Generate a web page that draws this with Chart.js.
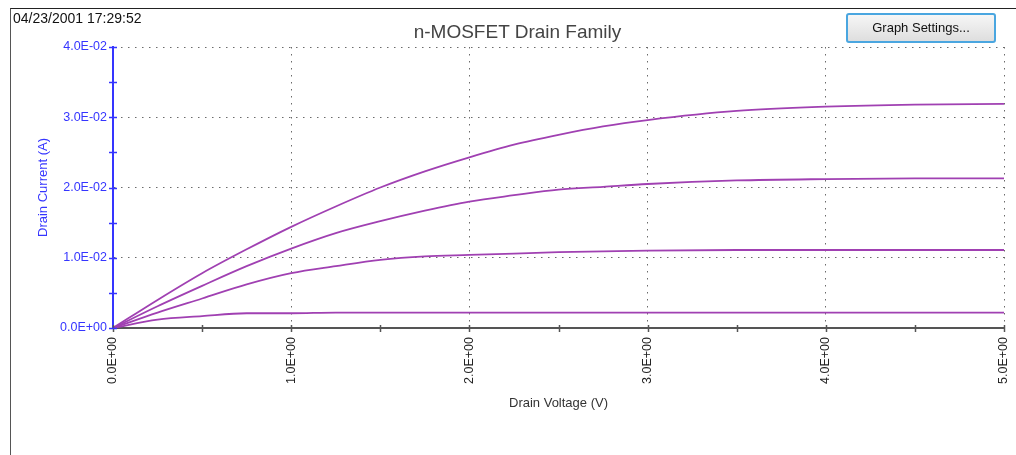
<!DOCTYPE html>
<html>
<head>
<meta charset="utf-8">
<script src="https://cdn.jsdelivr.net/npm/chart.js@4/dist/chart.umd.min.js"></script>
<style>
  html, body { margin: 0; padding: 0; background: #fff; }
  #wrap { position: relative; width: 1016px; height: 455px; overflow: hidden; background: #fff; font-family: "Liberation Sans", Arial, sans-serif; }
  #frame { position: absolute; left: 10px; top: 8px; width: 1010px; height: 460px; border-left: 1px solid #555; border-top: 1px solid #222; pointer-events: none; }
  #stamp { position: absolute; left: 13px; top: 10px; font-size: 14px; color: #111; line-height: 16px; }
  #title { position: absolute; left: 0; width: 1035px; top: 21px; text-align: center; font-size: 19px; color: #444; line-height: 22px; }
  #btn { position: absolute; left: 846px; top: 13px; width: 146px; height: 26px; border: 2px solid #4aa6e0; border-radius: 3px;
         background: linear-gradient(#f6f6f6, #dedede); font-size: 13px; color: #111; text-align: center; line-height: 26px; }
  canvas { position: absolute; left: 0; top: 0; }
</style>
</head>
<body>
<div id="wrap">
  <canvas id="c" width="1016" height="455"></canvas>
  <div id="frame"></div>
  <div id="stamp">04/23/2001 17:29:52</div>
  <div id="title">n-MOSFET Drain Family</div>
  <div id="btn">Graph Settings...</div>
</div>
<script>
// Drain voltage sample points (V)
const voltages = [0, 0.25, 0.5, 0.75, 1, 1.25, 1.5, 1.75, 2, 2.25, 2.5, 2.75, 3, 3.5, 4, 4.5, 5];
// Drain current (A) for each gate-voltage curve
const curve1 = [0, 0.0012, 0.0017, 0.0021, 0.0021, 0.0022, 0.0022, 0.0022, 0.0022, 0.0022, 0.0022, 0.0022, 0.0022, 0.0022, 0.0022, 0.0022, 0.0022];
const curve2 = [0, 0.0022, 0.0042, 0.0062, 0.0078, 0.0088, 0.0097, 0.0102, 0.0104, 0.0106, 0.0108, 0.0109, 0.0110, 0.0111, 0.0111, 0.0111, 0.0111];
const curve3 = [0, 0.0031, 0.0060, 0.0088, 0.0113, 0.0135, 0.0152, 0.0167, 0.0180, 0.0189, 0.0197, 0.0201, 0.0205, 0.0210, 0.0212, 0.0213, 0.0213];
const curve4 = [0, 0.0040, 0.0078, 0.0112, 0.0144, 0.0173, 0.0200, 0.0223, 0.0243, 0.0261, 0.0275, 0.0287, 0.0296, 0.0309, 0.0315, 0.0318, 0.0319];
// Axis tick labels
const xTickLabels = ["0.0E+00", "1.0E+00", "2.0E+00", "3.0E+00", "4.0E+00", "5.0E+00"];
const yTickLabels = ["0.0E+00", "1.0E-02", "2.0E-02", "3.0E-02", "4.0E-02"];

const LINE = '#a040b2';
const BLUE = '#3535ff';
const XAX = '#555555';
const GRID = '#6a6a6a';

function toPts(ys) { return voltages.map((v, i) => ({ x: v, y: ys[i] })); }
const series = [curve1, curve2, curve3, curve4];

function isMajor(v, step) { const r = v / step; return Math.abs(r - Math.round(r)) < 1e-6; }

const crossTicks = {
  id: 'crossTicks',
  afterDraw(chart) {
    const ctx = chart.ctx;
    const xs = chart.scales.x, ys = chart.scales.y;
    ctx.save();
    ctx.lineWidth = 1.5;
    ctx.strokeStyle = XAX;
    const yb = ys.getPixelForValue(0);
    xs.ticks.forEach(t => {
      const px = Math.round(xs.getPixelForValue(t.value)) + 0.5;
      ctx.beginPath(); ctx.moveTo(px, yb - 3); ctx.lineTo(px, yb + 4); ctx.stroke();
    });
    ctx.strokeStyle = BLUE;
    const xl = xs.getPixelForValue(0);
    ys.ticks.forEach(t => {
      const py = Math.round(ys.getPixelForValue(t.value)) + 0.5;
      ctx.beginPath(); ctx.moveTo(xl - 4, py); ctx.lineTo(xl + 4, py); ctx.stroke();
    });
    ctx.restore();
  }
};

new Chart(document.getElementById('c'), {
  type: 'line',
  data: {
    datasets: series.map((s, i) => ({
      label: 'Curve ' + (i + 1),
      data: toPts(s),
      borderColor: LINE,
      borderWidth: 1.8,
      pointRadius: 0,
      fill: false,
      cubicInterpolationMode: 'monotone'
    }))
  },
  options: {
    responsive: false,
    animation: false,
    events: [],
    layout: { padding: { left: 36, top: 47, right: 0, bottom: 44 } },
    plugins: { legend: { display: false }, tooltip: { enabled: false }, title: { display: false } },
    scales: {
      x: {
        type: 'linear', min: 0, max: 5,
        afterFit(s) { s.height = 83; s.paddingRight = 12; s.paddingLeft = 0; },
        ticks: {
          stepSize: 0.5, autoSkip: false, minRotation: 90, maxRotation: 90, padding: 9,
          color: '#222', font: { size: 12.5 },
          callback: (v) => isMajor(v, 1) ? xTickLabels[Math.round(v)] : ''
        },
        grid: {
          drawTicks: false,
          color: (c) => (c.tick && isMajor(c.tick.value, 1) && c.tick.value > 0) ? GRID : 'rgba(0,0,0,0)',
          lineWidth: 1
        },
        border: { display: true, color: XAX, width: 2, dash: [1.5, 5.5] },
        title: { display: true, text: 'Drain Voltage (V)', color: '#333', font: { size: 13 }, padding: { top: 0, bottom: 0 } }
      },
      y: {
        type: 'linear', min: 0, max: 0.04,
        afterFit(s) { s.width = 77; },
        ticks: {
          stepSize: 0.005, autoSkip: false, padding: 6,
          color: BLUE, font: { size: 12.5 },
          callback: (v) => isMajor(v, 0.01) ? yTickLabels[Math.round(v / 0.01)] : ''
        },
        grid: {
          drawTicks: false,
          color: (c) => (c.tick && isMajor(c.tick.value, 0.01) && c.tick.value > 0) ? GRID : 'rgba(0,0,0,0)',
          lineWidth: 1
        },
        border: { display: true, color: BLUE, width: 2, dash: [1.5, 5.5] },
        title: { display: true, text: 'Drain Current (A)', color: BLUE, font: { size: 13 }, padding: { top: 0, bottom: 0 } }
      }
    }
  },
  plugins: [crossTicks]
});
</script>
</body>
</html>
